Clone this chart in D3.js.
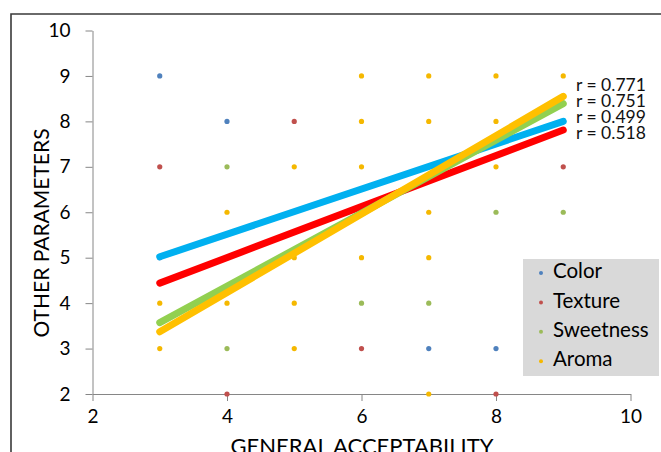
<!DOCTYPE html>
<html>
<head>
<meta charset="utf-8">
<script src="https://cdn.jsdelivr.net/npm/d3@7"></script>
<style>
  body { margin: 0; background: #fff; }
  svg { display: block; font-family: Lato, "Open Sans", sans-serif; }
</style>
</head>
<body>
<svg id="chart" width="661" height="452"></svg>
<script>
// series names and marker / trend colours
var seriesNames = ["Color", "Texture", "Sweetness", "Aroma"];
var markerColors = ["#4f81bd", "#c0504d", "#9bbb59", "#f5b800"];
var trendColors = ["#00b0f0", "#ff0000", "#92d050", "#ffc000"];

// observed points [general acceptability, parameter score]
var colorPts = [[3, 9], [4, 8], [7, 3], [8, 3], [3, 5]];
var texturePts = [[3, 7], [5, 8], [6, 3], [9, 7], [4, 2], [8, 2]];
var sweetnessPts = [[4, 7], [6, 4], [7, 4], [8, 6], [9, 6], [4, 3]];
var aromaPts = [[6, 9], [7, 9], [8, 9], [9, 9], [6, 8], [7, 8], [8, 8],
  [5, 7], [6, 7], [8, 7], [4, 6], [7, 6], [5, 5], [6, 5], [7, 5],
  [3, 4], [4, 4], [5, 4], [3, 3], [5, 3], [7, 2]];

// linear trend lines, value at x=3 and at x=9
var trendX = [3, 9];
var trendStart = [5.02, 4.44, 3.57, 3.37];
var trendEnd = [8.0, 7.81, 8.39, 8.55];
var rLabels = ["r = 0.771", "r = 0.751", "r = 0.499", "r = 0.518"];

var xTicks = [2, 4, 6, 8, 10];
var yTicks = [2, 3, 4, 5, 6, 7, 8, 9, 10];

var allPts = [colorPts, texturePts, sweetnessPts, aromaPts];

var svg = d3.select("#chart");

// chart frame (cropped screenshot edge)
svg.append("path")
    .attr("d", "M11,452 V14 H661")
    .attr("fill", "none")
    .attr("stroke", "#3a3a3a")
    .attr("stroke-width", 1.6);

var x = d3.scaleLinear().domain([2, 10]).range([92.5, 630.5]);
var y = d3.scaleLinear().domain([2, 10]).range([394, 30.5]);

var xAxis = svg.append("g")
    .attr("transform", "translate(0," + y(2) + ")")
    .call(d3.axisBottom(x).tickValues(xTicks).tickSize(7).tickSizeOuter(0).tickPadding(9));

var yAxis = svg.append("g")
    .attr("transform", "translate(" + x(2) + ",0)")
    .call(d3.axisLeft(y).tickValues(yTicks).tickSize(7).tickSizeOuter(0).tickPadding(15));

[xAxis, yAxis].forEach(function(a) {
  a.select(".domain").attr("stroke", "#868686");
  a.selectAll(".tick line").attr("stroke", "#868686");
  a.selectAll(".tick text")
      .attr("fill", "#000")
      .style("font-size", "19px")
      .style("font-family", "Lato, 'Open Sans', sans-serif");
});
xAxis.selectAll(".tick text").attr("dy", "0.68em");

// scatter markers
allPts.forEach(function(pts, i) {
  svg.append("g").selectAll("circle")
      .data(pts)
    .enter().append("circle")
      .attr("cx", function(d) { return x(d[0]); })
      .attr("cy", function(d) { return y(d[1]); })
      .attr("r", 2.6)
      .attr("fill", markerColors[i]);
});

// trend lines
var line = d3.line()
    .x(function(d) { return x(d[0]); })
    .y(function(d) { return y(d[1]); });

seriesNames.forEach(function(name, i) {
  svg.append("path")
      .datum([[trendX[0], trendStart[i]], [trendX[1], trendEnd[i]]])
      .attr("d", line)
      .attr("fill", "none")
      .attr("stroke", trendColors[i])
      .attr("stroke-width", 7)
      .attr("stroke-linecap", "round");
});

// correlation labels
svg.append("g").selectAll("text")
    .data(rLabels)
  .enter().append("text")
    .attr("x", 576)
    .attr("y", function(d, i) { return 87 + i * 16; })
    .attr("dominant-baseline", "middle")
    .style("font-size", "17.5px")
    .attr("fill", "#111")
    .text(function(d) { return d; });

// legend
var legend = svg.append("g").attr("transform", "translate(523,259)");
legend.append("rect")
    .attr("width", 136)
    .attr("height", 117)
    .attr("fill", "#d9d9d9");

var item = legend.selectAll(".item")
    .data(seriesNames)
  .enter().append("g")
    .attr("class", "item")
    .attr("transform", function(d, i) { return "translate(0," + (14 + i * 29.4) + ")"; });

item.append("circle")
    .attr("cx", 18)
    .attr("r", 2)
    .attr("fill", function(d, i) { return markerColors[i]; });

item.append("text")
    .attr("x", 30)
    .attr("dominant-baseline", "middle")
    .style("font-size", "20.5px")
    .attr("fill", "#000")
    .text(function(d) { return d; });

// axis titles
svg.append("text")
    .attr("transform", "translate(49,233) rotate(-90)")
    .attr("text-anchor", "middle")
    .style("font-size", "21px")
    .attr("fill", "#000")
    .text("OTHER PARAMETERS");

svg.append("text")
    .attr("x", 362)
    .attr("y", 454)
    .attr("text-anchor", "middle")
    .style("font-size", "22px")
    .attr("fill", "#000")
    .text("GENERAL ACCEPTABILITY");
</script>
</body>
</html>
